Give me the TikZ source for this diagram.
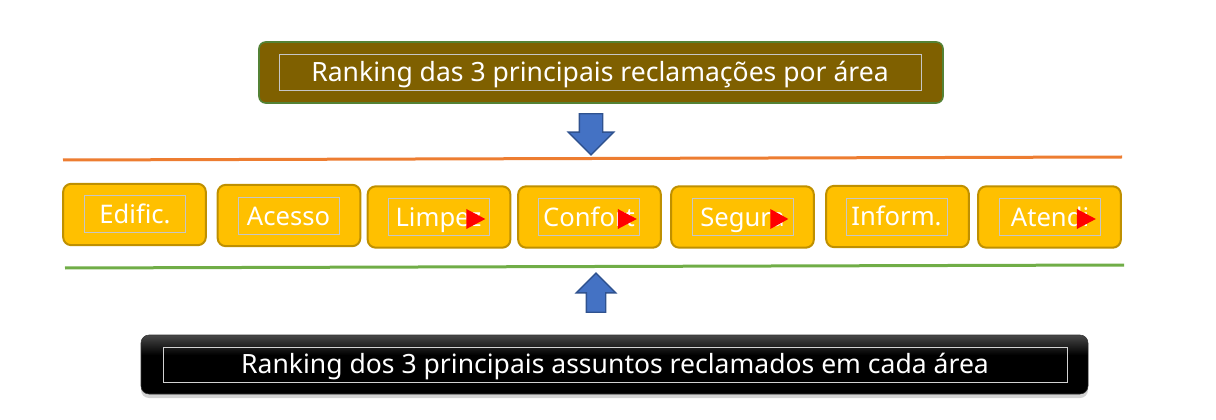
\documentclass[tikz,border=0pt]{standalone}
\usepackage{fontspec}
\setmainfont{Noto Sans}
\usetikzlibrary{shapes.arrows,shadows,calc,positioning}
\definecolor{rankbrown}{RGB}{127,96,0}
\definecolor{rankframe}{RGB}{84,130,53}
\definecolor{areafill}{RGB}{255,192,0}
\definecolor{areaframe}{RGB}{191,144,0}
\definecolor{flowblue}{RGB}{68,114,196}
\definecolor{flowframe}{RGB}{47,82,143}
\definecolor{sepgreen}{RGB}{112,173,71}
\definecolor{seporange}{RGB}{237,125,49}
\pgfdeclareverticalshading{blackbar}{100bp}{color(0bp)=(black); color(25bp)=(black); color(58bp)=(black); color(75bp)=(black!72); color(100bp)=(black!72)}

\begin{document}
\begin{tikzpicture}[
  x=0.75pt, y=-0.75pt,
  font=\fontsize{19.2}{22}\selectfont,
  title/.style={rectangle, draw=rankframe, fill=rankbrown, line width=1.2pt, rounded corners=5pt, minimum width=513pt, minimum height=45.75pt},
  frametxt/.style={rectangle, draw=gray!45, line width=0.5pt, text=white, text height=13.8pt, text depth=0pt},
  area/.style={rectangle, draw=areaframe, fill=areafill, line width=1.5pt, rounded corners=6pt, minimum width=107pt, minimum height=46pt},
  areatxt/.style={frametxt, minimum width=75.75pt, minimum height=27.75pt, inner sep=0pt},
  marker/.style={fill=red},
  flow/.style={single arrow, draw=flowframe, fill=flowblue, line width=1pt, single arrow head indent=0pt},
  sep/.style={line width=2.25pt}
]
\useasboundingbox (0,0) rectangle (1216,420);

% Top title
\node[title] (topbox) at (601,72.5) {};
\node[frametxt, minimum width=481.5pt, minimum height=27pt, text height=14.2pt, font=\fontsize{19.9}{22}\selectfont] (toptxt) at (600,72) {Ranking das 3 principais reclamações por área};

% Arrow down to the areas
\node[flow, shape border rotate=270, inner sep=8.25pt, minimum width=33pt, minimum height=30.75pt, single arrow head extend=8.25pt] (down) at (591,128.5) {};

% Separators
\draw[sep, seporange] (63,160) -- (1122,157);
\draw[sep, sepgreen] (65,268) -- (1124,265);

% Area boxes
\node[area] (edif) at (134.5,214.5) {};
\node[areatxt] (ediftxt) at (135,214) {Edific.};
\node[area] (aces) at (289,215.5) {};
\node[areatxt] (acestxt) at (288.5,216) {Acesso};
\node[area] (limp) at (439,217) {};
\node[areatxt] (limptxt) at (438.5,217) {Limpez};
\node[area] (conf) at (589.5,217) {};
\node[areatxt] (conftxt) at (589,217) {Confort};
\node[area] (segu) at (742.5,217) {};
\node[areatxt] (segutxt) at (742.5,217) {Segura};
\node[area] (info) at (897.5,216.5) {};
\node[areatxt] (infotxt) at (896.5,216.5) {Inform.};
\node[area] (aten) at (1049.5,217) {};
\node[areatxt] (atentxt) at (1050,217) {Atendi};

% Red markers over the cut-off names
\fill[marker] ($(limptxt.east)+(-4,2)$) -- ++(-19,-10) -- ++(0,20) -- cycle;
\fill[marker] ($(conftxt.east)+(-3,2)$) -- ++(-19,-10) -- ++(0,20) -- cycle;
\fill[marker] ($(segutxt.east)+(-5,2)$) -- ++(-18,-10) -- ++(0,20) -- cycle;
\fill[marker] ($(atentxt.east)+(-5,2)$) -- ++(-19,-10) -- ++(0,20) -- cycle;

% Arrow up from the subjects
\node[flow, shape border rotate=90, inner sep=6.75pt, minimum width=28.5pt, minimum height=29.25pt, single arrow head extend=7.5pt] (up) at (596,297.5) {};

% Bottom title
\node[rectangle, shading=blackbar, draw=black!80, rounded corners=6pt, minimum width=710.25pt, minimum height=44.25pt,
      drop shadow={shadow xshift=0pt, shadow yshift=-3pt, opacity=0.35}] (botbox) at (614.5,364.5) {};
\node[frametxt, draw=gray!35, minimum width=678pt, minimum height=26.25pt, text height=14.2pt, font=\fontsize{19.9}{22}\selectfont] (bottxt) at (615,364.5) {Ranking dos 3 principais assuntos reclamados em cada área};
\end{tikzpicture}
\end{document}
